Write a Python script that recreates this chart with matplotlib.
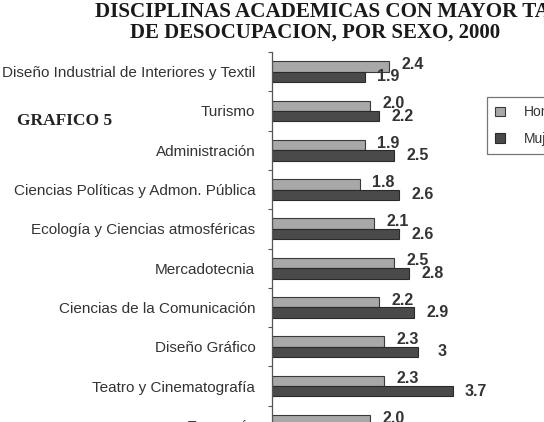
import matplotlib
matplotlib.use("Agg")
import matplotlib.pyplot as plt
from matplotlib.patches import Patch
import numpy as np

categories = ["Diseño Industrial de Interiores y Textil", "Turismo", "Administración",
              "Ciencias Políticas y Admon. Pública", "Ecología y Ciencias atmosféricas",
              "Mercadotecnia", "Ciencias de la Comunicación", "Diseño Gráfico",
              "Teatro y Cinematografía", "Economía"]
hombres = [2.4, 2.0, 1.9, 1.8, 2.1, 2.5, 2.2, 2.3, 2.3, 2.0]
mujeres = [1.9, 2.2, 2.5, 2.6, 2.6, 2.8, 2.9, 3.0, 3.7, 3.9]
series_names = ["Hombres", "Mujeres"]

W, H = 544, 422
fig = plt.figure(figsize=(W / 100, H / 100), dpi=100)
plt.rcParams['font.family'] = ['Liberation Sans', 'DejaVu Sans']

n = len(categories)
step = 39.3
top_px = 52
left_px = 272
ppu = 48.8
xmax = 4.3
ax = fig.add_axes([left_px / W, 1 - (top_px + n * step) / H, xmax * ppu / W, n * step / H])

y = np.arange(n)
bh = 0.265
c_h = "#a8a8a8"
c_m = "#4a4a4a"
ax.barh(y - bh / 2, hombres, height=bh, color=c_h, edgecolor="#3a3a3a", linewidth=0.8)
ax.barh(y + bh / 2, mujeres, height=bh, color=c_m, edgecolor="#2a2a2a", linewidth=0.8)

for yi, v in zip(y, hombres):
    ax.annotate(f"{v:.1f}", xy=(v, yi - bh / 2 - 0.05), xytext=(17, 0), textcoords="offset points",
                ha="center", va="center", fontsize=11.5, fontweight="bold", color="#333333")
for yi, v in zip(y, mujeres):
    ax.annotate(f"{v:g}", xy=(v, yi + bh / 2), xytext=(17, 0), textcoords="offset points",
                ha="center", va="center", fontsize=11.5, fontweight="bold", color="#333333")

ax.set_xlim(0, xmax)
ax.set_ylim(n - 0.5, -0.5)
ax.set_yticks(y)
ax.set_yticklabels(categories, fontsize=11, color="#333333")
ax.tick_params(axis="y", which="major", length=0, pad=12)
ax.set_yticks(np.arange(n + 1) - 0.5, minor=True)
ax.tick_params(axis="y", which="minor", length=3, width=0.8, color="#555555", direction="out")
ax.set_xticks([])
for s in ["top", "right", "bottom"]:
    ax.spines[s].set_visible(False)
ax.spines["left"].set_color("#555555")
ax.spines["left"].set_linewidth(0.9)

serif = ["Liberation Serif", "DejaVu Serif"]
fig.text(95 / W, 1 - 12 / H, "DISCIPLINAS ACADEMICAS CON MAYOR TASA", ha="left", va="center",
         fontsize=15.2, fontweight="bold", family=serif, color="#1a1a1a")
fig.text(315 / W, 1 - 33 / H, "DE DESOCUPACION, POR SEXO, 2000", ha="center", va="center",
         fontsize=15, fontweight="bold", family=serif, color="#1a1a1a")
fig.text(17 / W, 1 - 121 / H, "GRAFICO 5", ha="left", va="center",
         fontsize=12.5, fontweight="bold", family=serif, color="#222222")

handles = [Patch(facecolor=c_h, edgecolor="#3a3a3a", linewidth=0.8),
           Patch(facecolor=c_m, edgecolor="#2a2a2a", linewidth=0.8)]
leg = fig.legend(handles, series_names, loc="upper left", bbox_to_anchor=(487 / W, 1 - 97 / H),
                 fontsize=10, frameon=True, fancybox=False, labelspacing=0.9,
                 handlelength=0.72, handleheight=0.72, handletextpad=1.3, borderpad=0.6,
                 borderaxespad=0)
leg.get_frame().set_edgecolor("#555555")
leg.get_frame().set_linewidth(0.9)
for t in leg.get_texts():
    t.set_color("#333333")

fig.savefig("out.png", dpi=100)
